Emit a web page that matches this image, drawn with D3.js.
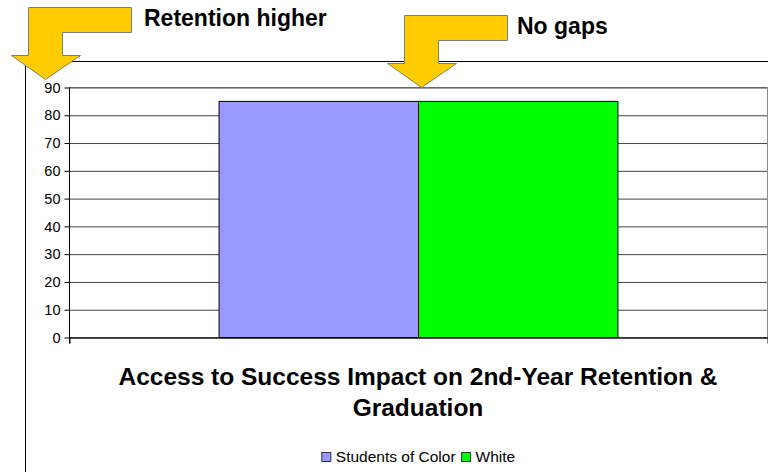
<!DOCTYPE html>
<html>
<head>
<meta charset="utf-8">
<script src="https://cdn.jsdelivr.net/npm/d3@7"></script>
<style>
  body { margin: 0; background: #fff; }
  svg { display: block; font-family: "Liberation Sans", Arial, sans-serif; }
</style>
</head>
<body>
<div id="chart"></div>
<script>
// ---- data ----
var categories = ["Retention"];
var seriesNames = ["Students of Color", "White"];
var seriesValues = [85, 85];
var seriesColors = ["#9999FF", "#00FF00"];
var yTicks = [0, 10, 20, 30, 40, 50, 60, 70, 80, 90];
var titleLines = ["Access to Success Impact on 2nd-Year Retention &", "Graduation"];
var callouts = ["Retention higher", "No gaps"];

// ---- space ----
var width = 768, height = 472;
var plot = { left: 69, right: 767, top: 87, bottom: 337 };

var svg = d3.select("#chart").append("svg")
  .attr("width", width)
  .attr("height", height);

// outer chart frame (only left and top are visible)
svg.append("path")
  .attr("d", "M25.5," + height + "V61.5H" + width)
  .attr("fill", "none")
  .attr("stroke", "#000")
  .attr("stroke-width", 1);

// scales
var y = d3.scaleLinear().domain([0, 90]).range([plot.bottom, plot.top]);
var x0 = d3.scaleBand().domain(categories)
  .range([plot.left, plot.right])
  .paddingInner(0).paddingOuter(0.375);
var x1 = d3.scaleBand().domain(seriesNames).range([0, x0.bandwidth()]);
var xEdge = d3.scaleLinear().domain([0, categories.length]).range([plot.left, plot.right]);

// plot area border (grey)
svg.append("rect")
  .attr("x", plot.left + 0.5)
  .attr("y", plot.top + 0.5)
  .attr("width", plot.right - plot.left)
  .attr("height", plot.bottom - plot.top)
  .attr("fill", "none")
  .attr("stroke", "#8c8c8c");

// gridlines
svg.append("g")
  .attr("class", "grid")
  .attr("transform", "translate(" + plot.left + ",0.5)")
  .call(d3.axisLeft(y).tickValues(yTicks).tickSize(-(plot.right - plot.left)).tickFormat(""))
  .call(function(g) { g.select(".domain").remove(); })
  .call(function(g) { g.selectAll("line").attr("stroke", "#444"); });

// bars
svg.append("g").selectAll("rect")
  .data(seriesNames.map(function(n, i) { return { name: n, value: seriesValues[i], color: seriesColors[i], cat: categories[0] }; }))
  .enter().append("rect")
  .attr("x", function(d) { return x0(d.cat) + x1(d.name) + 0.5; })
  .attr("y", function(d) { return y(d.value) + 0.5; })
  .attr("width", x1.bandwidth())
  .attr("height", function(d) { return y(0) - y(d.value); })
  .attr("fill", function(d) { return d.color; })
  .attr("stroke", "#000")
  .attr("stroke-width", 1);

// y axis
var yAxisG = svg.append("g")
  .attr("transform", "translate(" + (plot.left + 0.5) + ",0.5)")
  .call(d3.axisLeft(y).tickValues(yTicks).tickSize(5).tickSizeOuter(0).tickPadding(4));
yAxisG.select(".domain").attr("d", "M0," + plot.top + "V" + (plot.bottom + 6));
yAxisG.selectAll("text")
  .attr("font-family", "'Liberation Sans', Arial, sans-serif")
  .attr("font-size", "14.5px")
  .attr("fill", "#000");

// x axis (ticks at category boundaries)
svg.append("g")
  .attr("transform", "translate(0.5," + (plot.bottom + 0.5) + ")")
  .call(d3.axisBottom(xEdge).tickValues(d3.range(categories.length + 1))
    .tickSize(6).tickSizeOuter(0).tickFormat(""));

// title
svg.append("g").selectAll("text")
  .data(titleLines)
  .enter().append("text")
  .attr("x", (plot.left + plot.right) / 2)
  .attr("y", function(d, i) { return 385 + i * 31; })
  .attr("text-anchor", "middle")
  .attr("font-size", "24.5px")
  .attr("font-weight", "bold")
  .text(function(d) { return d; });

// legend
var legend = svg.append("g");
var legendItems = legend.selectAll("g")
  .data(seriesNames)
  .enter().append("g");
legendItems.append("rect")
  .attr("width", 9).attr("height", 9)
  .attr("y", -9.5)
  .attr("fill", function(d, i) { return seriesColors[i]; })
  .attr("stroke", "#333");
legendItems.append("text")
  .attr("x", 14)
  .attr("font-size", "15.5px")
  .text(function(d) { return d; });
var lx = 0;
legendItems.each(function() {
  d3.select(this).attr("transform", "translate(" + lx + ",0)");
  lx += this.getBBox().width + 6;
});
var lw = lx - 6;
legend.attr("transform", "translate(" + ((plot.left + plot.right) / 2 - lw / 2 + 0.5) + ",462)");

// callout arrows
function arrowPath(ox, oy) {
  var pts = [[0, 0], [103, 0], [103, 25], [34, 25], [34, 48], [52, 48], [17, 72], [-17, 48], [0, 48]];
  return "M" + pts.map(function(p) { return (ox + p[0]) + "," + (oy + p[1]); }).join("L") + "Z";
}
var arrowSpots = [[28, 7], [404, 15]];
var textSpots = [[144, 26], [517, 34]];

svg.append("g").selectAll("path")
  .data(arrowSpots)
  .enter().append("path")
  .attr("d", function(d) { return arrowPath(d[0] + 0.5, d[1] + 0.5); })
  .attr("fill", "#FFCC00")
  .attr("stroke", "#7f7f7f")
  .attr("stroke-width", 1);

svg.append("g").selectAll("text")
  .data(callouts)
  .enter().append("text")
  .attr("x", function(d, i) { return textSpots[i][0]; })
  .attr("y", function(d, i) { return textSpots[i][1]; })
  .attr("font-size", "23px")
  .attr("font-weight", "bold")
  .text(function(d) { return d; });
</script>
</body>
</html>
